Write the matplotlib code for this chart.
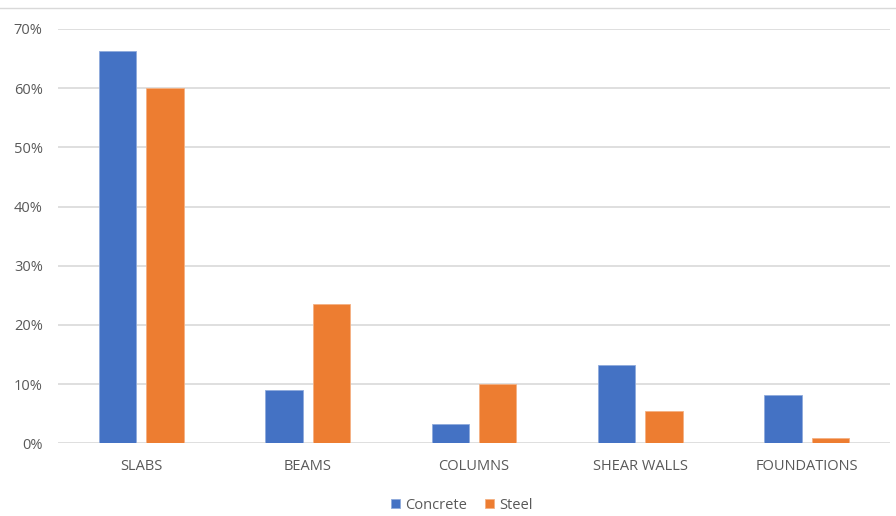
import numpy as np
import matplotlib.pyplot as plt
from matplotlib.lines import Line2D

categories = ["SLABS", "BEAMS", "COLUMNS", "SHEAR WALLS", "FOUNDATIONS"]
concrete = [0.663, 0.090, 0.032, 0.133, 0.081]
steel = [0.600, 0.235, 0.101, 0.055, 0.0095]
yticks = [0, 0.1, 0.2, 0.3, 0.4, 0.5, 0.6, 0.7]

plt.rcParams['font.family'] = ['Open Sans', 'DejaVu Sans']
txt = '#595959'

fig = plt.figure(figsize=(8.96, 5.16), dpi=100)
ax = fig.add_axes([58/896, 1 - 443.3/516, (890 - 58)/896, (443.3 - 29)/516])

x = np.arange(len(categories))
w = 0.225
off = 0.142
ax.bar(x - off, concrete, w, color='#4472C4', edgecolor='#8faadc', linewidth=0.6, label='Concrete', zorder=3)
ax.bar(x + off, steel, w, color='#ED7D31', edgecolor='#f4b183', linewidth=0.6, label='Steel', zorder=3)

ax.set_xlim(-0.5, len(categories) - 0.5)
ax.set_ylim(0, 0.7)
ax.set_yticks(yticks)
ax.set_yticklabels([f"{int(round(v*100))}%" for v in yticks])
ax.set_xticks(x)
ax.set_xticklabels(categories)
ax.grid(axis='y', color='#d9d9d9', linewidth=1.2, zorder=0)
for s in ax.spines.values():
    s.set_visible(False)
ax.tick_params(axis='both', length=0, colors=txt, labelsize=10.5)
ax.tick_params(axis='x', pad=11.5)
ax.tick_params(axis='y', pad=11)

# chart border line at top
fig.add_artist(Line2D([0, 1], [1 - 8/516, 1 - 8/516], color='#d9d9d9', linewidth=1))

leg = fig.legend(loc='center', bbox_to_anchor=(462/896, 1 - 505.5/516), ncol=2, frameon=False,
                 fontsize=10.5, handlelength=0.6, handleheight=0.6, handletextpad=0.4,
                 columnspacing=1.2)
for t in leg.get_texts():
    t.set_color(txt)

fig.savefig('out.png', dpi=100)
